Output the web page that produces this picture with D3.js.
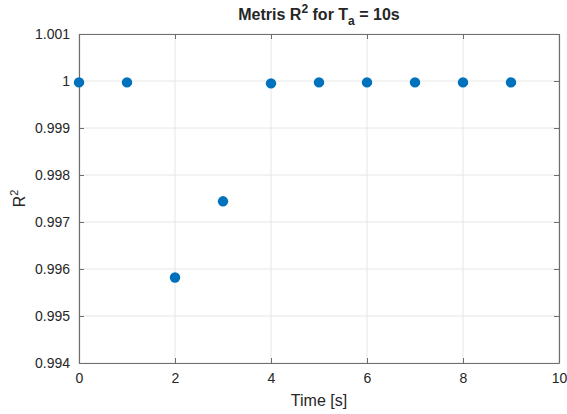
<!DOCTYPE html>
<html>
<head>
<meta charset="utf-8">
<script src="https://cdn.jsdelivr.net/npm/d3@7"></script>
<style>
  body { margin: 0; background: #fff; }
  text { font-family: "Liberation Sans", Arial, sans-serif; fill: #262626; }
</style>
</head>
<body>
<script>
// R^2 per time step
var times = [0, 1, 2, 3, 4, 5, 6, 7, 8, 9]
var r2 = [0.99997, 0.99997, 0.99582, 0.99744, 0.99995, 0.99997, 0.99997, 0.99997, 0.99997, 0.99997]
var xTicks = [0, 2, 4, 6, 8, 10]
var yTicks = [0.994, 0.995, 0.996, 0.997, 0.998, 0.999, 1, 1.001]

var screen = {width: 567, height: 414}
var margins = {top: 34, bottom: 51, left: 79, right: 8}
var width = screen.width - margins.left - margins.right
var height = screen.height - margins.top - margins.bottom

var xScale = d3.scaleLinear().domain([0, 10]).range([0, width])
var yScale = d3.scaleLinear().domain([0.994, 1.001]).range([height, 0])

var svg = d3.select("body").append("svg")
    .attr("width", screen.width)
    .attr("height", screen.height)

var plot = svg.append("g")
    .attr("transform", "translate(" + margins.left + "," + margins.top + ")")

// grid
plot.append("g").selectAll("line.gx")
    .data(xTicks).enter().append("line")
    .attr("x1", d => xScale(d)).attr("x2", d => xScale(d))
    .attr("y1", 0).attr("y2", height)
    .attr("stroke", "#e6e6e6").attr("stroke-width", 1)
plot.append("g").selectAll("line.gy")
    .data(yTicks).enter().append("line")
    .attr("x1", 0).attr("x2", width)
    .attr("y1", d => yScale(d)).attr("y2", d => yScale(d))
    .attr("stroke", "#e6e6e6").attr("stroke-width", 1)

// axes (ticks point inward, on all four sides)
var xAxis = d3.axisBottom(xScale).tickValues(xTicks).tickSizeInner(-5).tickSizeOuter(0).tickPadding(10)
var yAxis = d3.axisLeft(yScale).tickValues(yTicks).tickSizeInner(-5).tickSizeOuter(0).tickPadding(9)
    .tickFormat(d => String(+d.toFixed(3)))
var xTop = d3.axisTop(xScale).tickValues(xTicks).tickSizeInner(-5).tickSizeOuter(0).tickFormat("")
var yRight = d3.axisRight(yScale).tickValues(yTicks).tickSizeInner(-5).tickSizeOuter(0).tickFormat("")

var gx = plot.append("g").attr("transform", "translate(0," + height + ")").call(xAxis)
var gy = plot.append("g").call(yAxis)
var gt = plot.append("g").call(xTop)
var gr = plot.append("g").attr("transform", "translate(" + width + ",0)").call(yRight)

;[gx, gy, gt, gr].forEach(function(g) {
    g.select(".domain").attr("stroke", "#6e6e6e").attr("stroke-width", 1.2)
    g.selectAll(".tick line").attr("stroke", "#6e6e6e").attr("stroke-width", 1)
    g.selectAll(".tick text").style("font-size", "14px").attr("fill", "#262626")
        .style("font-family", "'Liberation Sans', Arial, sans-serif")
})

// points
plot.append("g").selectAll("circle")
    .data(times).enter().append("circle")
    .attr("cx", (d, i) => xScale(times[i]))
    .attr("cy", (d, i) => yScale(r2[i]))
    .attr("r", 5.2)
    .attr("fill", "#0072bd")

// labels
svg.append("text")
    .attr("x", margins.left + width / 2)
    .attr("y", screen.height - 8)
    .attr("text-anchor", "middle")
    .style("font-size", "16px")
    .text("Time [s]")

var yl = svg.append("text")
    .attr("transform", "translate(25," + (margins.top + height / 2) + ") rotate(-90)")
    .attr("text-anchor", "middle")
    .style("font-size", "16px")
yl.append("tspan").text("R")
yl.append("tspan").attr("dy", -7).style("font-size", "11px").text("2")

var title = svg.append("text")
    .attr("x", margins.left + width / 2)
    .attr("y", 20)
    .attr("text-anchor", "middle")
    .style("font-size", "16px")
    .style("font-weight", "bold")
    .attr("fill", "#000")
title.append("tspan").text("Metris R")
title.append("tspan").attr("dy", -7).style("font-size", "12px").text("2")
title.append("tspan").attr("dy", 7).text(" for T")
title.append("tspan").attr("dy", 5).style("font-size", "12px").text("a")
title.append("tspan").attr("dy", -5).text(" = 10s")
</script>
</body>
</html>
